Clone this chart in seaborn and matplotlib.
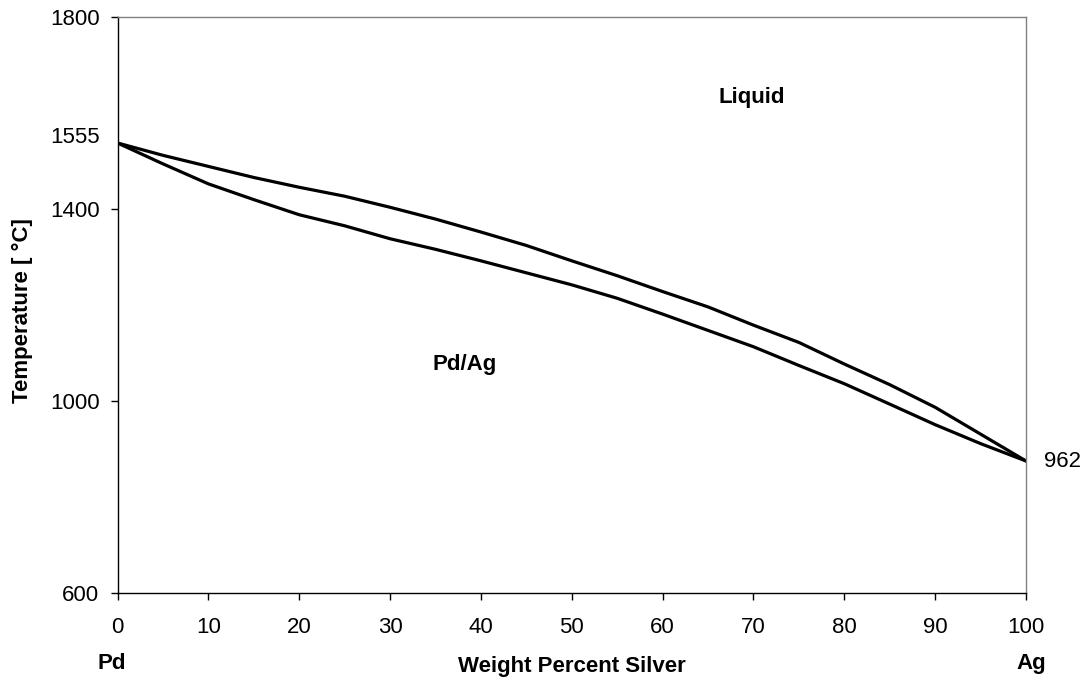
import numpy as np
import pandas as pd
import matplotlib
matplotlib.use("Agg")
import matplotlib.pyplot as plt
import seaborn as sns

# Composition (weight percent silver)
wt_ag = [0, 5, 10, 15, 20, 25, 30, 35, 40, 45, 50,
         55, 60, 65, 70, 75, 80, 85, 90, 95, 100]

# Liquidus and solidus temperatures (°C)
liquidus = [1555, 1526, 1500, 1474, 1451, 1430, 1404, 1379, 1352, 1324, 1292,
            1261, 1228, 1196, 1158, 1122, 1077, 1034, 996, 979, 962]
solidus = [1555, 1506, 1459, 1422, 1388, 1365, 1338, 1316, 1292, 1267, 1242,
           1214, 1181, 1147, 1113, 1074, 1036, 998, 985, 973, 962]

y_ticks = [600, 1000, 1400, 1800]
x_ticks = list(range(0, 101, 10))

# Temperature axis: piecewise-linear so the pure-metal melting points sit on the chart grid
t_knots = np.array([600, 962, 1000, 1400, 1555, 1800], dtype=float)
p_knots = np.array([600, 875, 1000, 1400, 1537.5, 1800], dtype=float)


def forward(t):
    return np.interp(t, t_knots, p_knots)


def inverse(p):
    return np.interp(p, p_knots, t_knots)


df = pd.DataFrame({"wt": wt_ag, "liquidus": liquidus, "solidus": solidus})

sns.set_theme(style="white")
plt.rcParams["font.family"] = ["Liberation Sans", "DejaVu Sans"]
plt.rcParams["text.color"] = "black"
plt.rcParams["axes.labelcolor"] = "black"
plt.rcParams["xtick.color"] = "black"
plt.rcParams["ytick.color"] = "black"

fig = plt.figure(figsize=(10.89, 6.87), dpi=100)
ax = fig.add_axes([0.1079, 0.1368, 0.8343, 0.8385])

sns.lineplot(data=df, x="wt", y="liquidus", color="black", linewidth=2.3, ax=ax)
sns.lineplot(data=df, x="wt", y="solidus", color="black", linewidth=2.3, ax=ax)

ax.set_yscale("function", functions=(forward, inverse))
ax.set_xlim(0, 100)
ax.set_ylim(600, 1800)
ax.set_xticks(x_ticks)
ax.set_yticks(y_ticks)
ax.set_yticklabels([str(v) for v in y_ticks])
ax.minorticks_off()

tick_size = 16
bold_size = 16

ax.tick_params(axis="both", direction="out", length=5, width=1, colors="black",
               labelsize=tick_size, labelcolor="black")
ax.tick_params(axis="y", pad=8, left=True)
ax.tick_params(axis="x", pad=12.5, bottom=True)

for side in ["left", "bottom"]:
    ax.spines[side].set_color("black")
    ax.spines[side].set_linewidth(1.0)
for side in ["top", "right"]:
    ax.spines[side].set_color("#808080")
    ax.spines[side].set_linewidth(1.0)

ax.set_xlabel("Weight Percent Silver", fontsize=bold_size, fontweight="bold", va="center")
ax.xaxis.set_label_coords(0.5, -0.127)
ax.set_ylabel("Temperature [ °C]", fontsize=bold_size, fontweight="bold", va="center")
ax.yaxis.set_label_coords(-0.1051, 0.491)

# Pure element markers under the axis ends
ax.text(-0.006, -0.123, "Pd", transform=ax.transAxes, ha="center", va="center",
        fontsize=bold_size, fontweight="bold")
ax.text(1.0055, -0.123, "Ag", transform=ax.transAxes, ha="center", va="center",
        fontsize=bold_size, fontweight="bold")

# Phase region labels
ax.text(69.8, 1644, "Liquid", ha="center", va="center", fontsize=bold_size, fontweight="bold")
ax.text(38.25, 1075, "Pd/Ag", ha="center", va="center", fontsize=bold_size, fontweight="bold")

# Melting points of the pure metals
ax.annotate("1555", xy=(0, liquidus[0]), xytext=(-13, 4.3), textcoords="offset points",
            ha="right", va="center", fontsize=tick_size, annotation_clip=False)
ax.annotate("962", xy=(100, liquidus[-1]), xytext=(13, -0.5), textcoords="offset points",
            ha="left", va="center", fontsize=tick_size, annotation_clip=False)

fig.savefig("out.png", dpi=100)
